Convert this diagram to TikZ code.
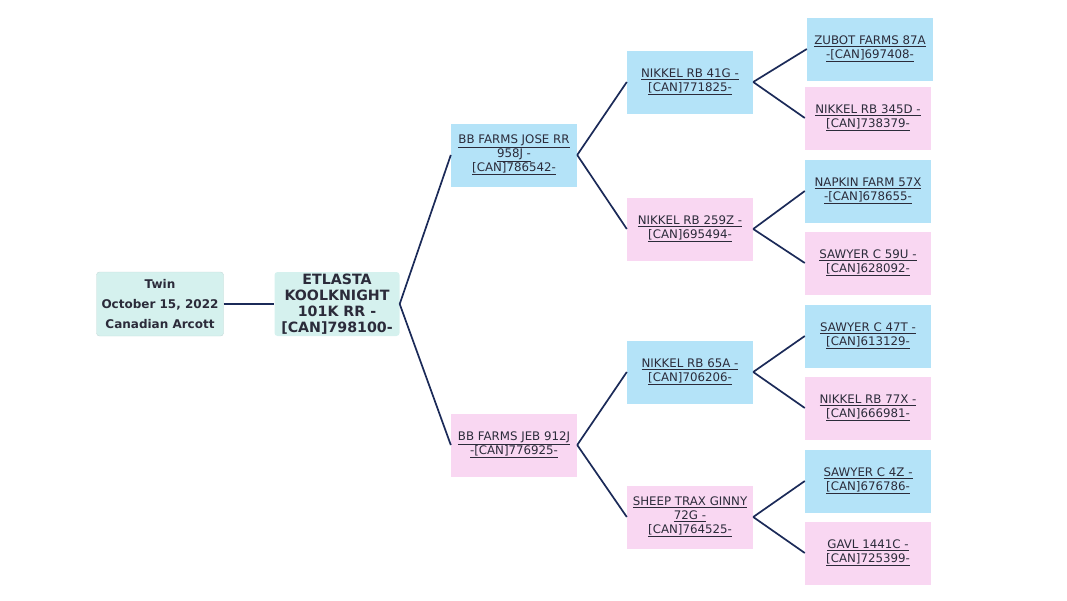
\documentclass[tikz,border=0pt]{standalone}
\usepackage{fontspec}
\setmainfont{DejaVu Sans}
\usetikzlibrary{positioning}

\definecolor{rootfill}{HTML}{D5F1EE}
\definecolor{sireblue}{HTML}{B4E3F8}
\definecolor{dampink}{HTML}{F9D7F2}
\definecolor{linecol}{HTML}{1B2A58}
\definecolor{txt}{HTML}{2B2B3A}

\begin{document}
\begin{tikzpicture}[
  x=1pt, y=-1pt,
  pbox/.style={minimum width=126pt, minimum height=63pt, inner sep=1pt, align=center,
    text=txt, font=\fontsize{11.8}{14}\selectfont},
  sire/.style={pbox, fill=sireblue},
  dam/.style={pbox, fill=dampink},
  rootbox/.style={fill=rootfill, rounded corners=3pt, minimum width=127pt, minimum height=64pt,
    inner sep=0pt, align=center, text=txt, font=\bfseries},
  link/.style={draw=linecol, line width=1.7pt}
]
\useasboundingbox (0,0) rectangle (1067,600);

%% Root
\node[rootbox, draw=rootfill!80!gray, font=\fontsize{12}{20}\selectfont\bfseries] (info) at (160,304)
  {Twin\\October 15, 2022\\Canadian Arcott};
\node[rootbox, minimum width=125pt, font=\fontsize{14.2}{16.2}\selectfont\bfseries] (calf) at (337,304)
  {ETLASTA\\KOOLKNIGHT\\101K RR -\\{[CAN]}798100-};

\draw[link] (info)--(calf);

%% Parents
\node[sire] (s) at (514,155) {\underline{BB FARMS JOSE RR}\\\underline{958J -}\\\underline{[CAN]786542-}};
\node[dam]  (d) at (514,445) {\underline{BB FARMS JEB 912J}\\\underline{-[CAN]776925-}};

\draw[link] (calf.east)--(s.west);
\draw[link] (calf.east)--(d.west);

%% Grandparents
\node[sire] (ss) at (690,82)  {\underline{NIKKEL RB 41G -}\\\underline{[CAN]771825-}};
\node[dam]  (sd) at (690,229) {\underline{NIKKEL RB 259Z -}\\\underline{[CAN]695494-}};
\node[sire] (ds) at (690,372) {\underline{NIKKEL RB 65A -}\\\underline{[CAN]706206-}};
\node[dam]  (dd) at (690,517) {\underline{SHEEP TRAX GINNY}\\\underline{72G -}\\\underline{[CAN]764525-}};

\draw[link] (s.east)--(ss.west);
\draw[link] (s.east)--(sd.west);
\draw[link] (d.east)--(ds.west);
\draw[link] (d.east)--(dd.west);

%% Great-grandparents
\node[sire] (sss) at (870,49)  {\underline{ZUBOT FARMS 87A}\\\underline{-[CAN]697408-}};
\node[dam]  (ssd) at (868,118) {\underline{NIKKEL RB 345D -}\\\underline{[CAN]738379-}};
\node[sire] (sds) at (868,191) {\underline{NAPKIN FARM 57X}\\\underline{-[CAN]678655-}};
\node[dam]  (sdd) at (868,263) {\underline{SAWYER C 59U -}\\\underline{[CAN]628092-}};
\node[sire] (dss) at (868,336) {\underline{SAWYER C 47T -}\\\underline{[CAN]613129-}};
\node[dam]  (dsd) at (868,408) {\underline{NIKKEL RB 77X -}\\\underline{[CAN]666981-}};
\node[sire] (dds) at (868,481) {\underline{SAWYER C 4Z -}\\\underline{[CAN]676786-}};
\node[dam]  (ddd) at (868,553) {\underline{GAVL 1441C -}\\\underline{[CAN]725399-}};

\draw[link] (ss.east)--(sss.west);
\draw[link] (ss.east)--(ssd.west);
\draw[link] (sd.east)--(sds.west);
\draw[link] (sd.east)--(sdd.west);
\draw[link] (ds.east)--(dss.west);
\draw[link] (ds.east)--(dsd.west);
\draw[link] (dd.east)--(dds.west);
\draw[link] (dd.east)--(ddd.west);

\end{tikzpicture}
\end{document}
